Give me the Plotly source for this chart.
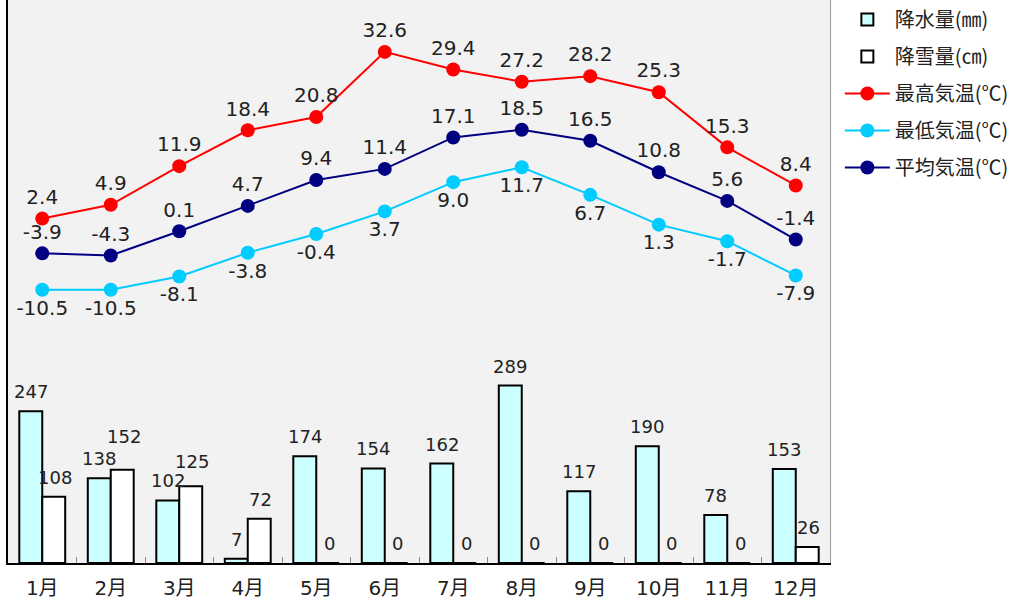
import plotly.graph_objects as go

months = ["1月", "2月", "3月", "4月", "5月", "6月", "7月", "8月", "9月", "10月", "11月", "12月"]
precip = [247, 138, 102, 7, 174, 154, 162, 289, 117, 190, 78, 153]
snow = [108, 152, 125, 72, 0, 0, 0, 0, 0, 0, 0, 26]
t_max = [2.4, 4.9, 11.9, 18.4, 20.8, 32.6, 29.4, 27.2, 28.2, 25.3, 15.3, 8.4]
t_min = [-10.5, -10.5, -8.1, -3.8, -0.4, 3.7, 9.0, 11.7, 6.7, 1.3, -1.7, -7.9]
t_avg = [-3.9, -4.3, 0.1, 4.7, 9.4, 11.4, 17.1, 18.5, 16.5, 10.8, 5.6, -1.4]

FONT = "DejaVu Sans, Noto Sans CJK JP"
CJK = "Noto Sans CJK JP"

fig = go.Figure()
fig.add_trace(go.Bar(x=months, y=precip, name="降水量(㎜)", legendgroup="a",
                     marker=dict(color="#ccffff", line=dict(color="black", width=2))))
fig.add_trace(go.Bar(x=months, y=snow, name="降雪量(㎝)", legendgroup="b",
                     marker=dict(color="white", line=dict(color="black", width=2))))

# bar value labels (nudged upward where neighbouring labels would collide)
snow_nudge = {"2月": 14, "3月": 5}
for m, p, s in zip(months, precip, snow):
    fig.add_annotation(x=m, y=p, xref="x", yref="y", text=str(p), showarrow=False,
                       xshift=-11.5, yshift=7, yanchor="bottom",
                       font=dict(size=18, family=FONT, color="#222222"))
    fig.add_annotation(x=m, y=s, xref="x", yref="y", text=str(s), showarrow=False,
                       xshift=13, yshift=7 + snow_nudge.get(m, 0), yanchor="bottom",
                       font=dict(size=18, family=FONT, color="#222222"))

def line(vals, name, color, pos, grp):
    return go.Scatter(x=months, y=vals, name=name, yaxis="y2", legendgroup=grp,
                      mode="lines+markers+text",
                      line=dict(color=color, width=2),
                      marker=dict(color=color, size=14),
                      text=[f"{v:.1f}" for v in vals], textposition=pos,
                      textfont=dict(size=20, color="#222222", family=FONT),
                      cliponaxis=False)

fig.add_trace(line(t_max, "最高気温(℃)", "#ff0000", "top center", "c"))
fig.add_trace(line(t_min, "最低気温(℃)", "#00ccff", "bottom center", "d"))
fig.add_trace(line(t_avg, "平均気温(℃)", "#000080", "top center", "e"))

fig.update_layout(
    width=1019, height=603,
    margin=dict(l=8, r=189, t=0, b=40),
    paper_bgcolor="white", plot_bgcolor="#f2f2f2",
    font=dict(family=FONT, size=16, color="#222222"),
    barmode="group", bargap=0.33, bargroupgap=0,
    showlegend=True,
    legend=dict(x=1.012, y=1.0, xanchor="left", yanchor="top", itemwidth=45,
                font=dict(size=20, family=CJK, color="#222222"), tracegroupgap=8,
                bgcolor="rgba(0,0,0,0)"),
    xaxis=dict(type="category", range=[-0.5, 11.5], autorange=False,
               showline=True, linecolor="black", linewidth=1.5,
               ticks="inside", tickson="boundaries", ticklen=6, tickcolor="#888888",
               ticklabelstandoff=6,
               tickfont=dict(size=20, family=FONT, color="#222222"), showgrid=False),
    yaxis=dict(range=[0, 917], showticklabels=False, showgrid=False, zeroline=False,
               showline=True, linecolor="black", linewidth=1.5, ticks=""),
    yaxis2=dict(range=[-60, 42], overlaying="y", side="right", showticklabels=False,
                showgrid=False, zeroline=False, showline=True, linecolor="#999999",
                linewidth=1, ticks=""),
)

fig.write_html("out.html")
